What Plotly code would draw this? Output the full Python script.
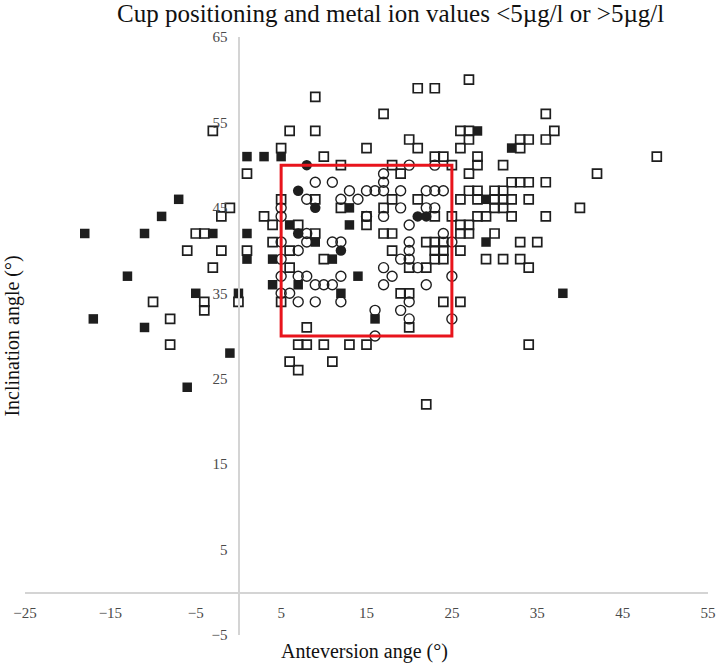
import plotly.graph_objects as go

# Open squares: outside target zone, <5 µg/l
open_sq_x = [-5, -4, -1, -2, -6, -2, -3, -4, -4, 0, -10, -8, -8, 1, 1, -3,
             9, 21, 23, 27, 17, 6, 9, 20, 21, 15, 5, 10, 12, 18, 23, 24, 25,
             36, 37, 36, 33, 34, 33, 26, 27, 27, 26, 28, 28, 27, 31, 49, 42, 32, 33, 34, 36,
             27, 28, 30, 31, 26, 28, 30, 31, 32, 34, 30, 31, 40, 25, 28, 29, 32, 36,
             26, 27, 26, 27, 30, 33, 35, 26, 29, 31, 33, 34, 26, 34,
             8, 20, 7, 8, 10, 13, 15, 6, 7, 11, 22,
             9, 18, 19, 21, 17, 23, 15, 15, 17, 18, 22, 23, 24, 23, 24, 23, 24, 18, 20, 22, 19, 20, 24,
             4, 4, 7, 9, 5, 6, 6, 10, 12, 5, 3]
open_sq_y = [42, 42, 45, 44, 40, 40, 38, 34, 33, 34, 34, 32, 29, 49, 40, 54,
             58, 59, 59, 60, 56, 54, 54, 53, 52, 52, 52, 51, 50, 50, 51, 51, 50,
             56, 54, 53, 53, 53, 52, 54, 54, 53, 52, 51, 50, 49, 50, 51, 49, 48, 48, 48, 48,
             47, 47, 47, 47, 46, 46, 46, 46, 46, 46, 45, 45, 45, 44, 44, 44, 44, 44,
             43, 43, 42, 42, 42, 41, 41, 40, 39, 39, 39, 38, 34, 29,
             31, 31, 29, 29, 29, 29, 29, 27, 26, 27, 22,
             46, 46, 49, 46, 45, 44, 44, 43, 42, 42, 41, 41, 41, 40, 40, 39, 39, 40, 38, 38, 35, 35, 34,
             43, 41, 43, 42, 46, 40, 38, 39, 45, 34, 44]

# Filled squares: outside target zone, >5 µg/l
fill_sq_x = [-7, -9, -18, -11, -3, -13, -5, 0, -17, -11, -1, -6, 1, 3, 5, 1, 1,
             28, 32, 29, 29, 38, 6, 9, 11, 13, 13, 14, 4, 4, 7, 12, 16]
fill_sq_y = [46, 44, 42, 42, 42, 37, 35, 35, 32, 31, 28, 24, 51, 51, 51, 42, 39,
             54, 52, 46, 41, 35, 43, 41, 39, 45, 43, 37, 39, 36, 36, 35, 32]

# Open circles: inside target zone, <5 µg/l
open_ci_x = [9, 11, 8, 12, 14, 13, 5, 5, 8, 8, 11, 12, 7, 5, 5, 5, 5, 7, 8, 9, 10, 11, 6, 7, 9, 12, 12, 15,
             20, 23, 17, 17, 15, 16, 17, 19, 22, 23, 24, 19, 17, 22, 23, 20, 24, 25, 20, 20, 20, 19,
             21, 17, 18, 17, 22, 20, 19, 20, 25, 25, 16, 16]
open_ci_y = [48, 48, 46, 46, 46, 47, 45, 44, 42, 41, 41, 41, 40, 41, 39, 37, 35, 37, 37, 36, 36, 36, 35, 34, 34, 37, 34, 44,
             50, 50, 49, 48, 47, 47, 47, 47, 47, 47, 47, 45, 44, 45, 45, 43, 42, 41, 41, 40, 39, 39,
             38, 38, 37, 36, 36, 34, 33, 32, 37, 32, 33, 30]

# Filled circles: inside target zone, >5 µg/l
fill_ci_x = [8, 7, 9, 7, 12, 21, 22]
fill_ci_y = [50, 47, 45, 42, 40, 44, 44]

# Target zone
zone_x = [5, 25]
zone_y = [30, 50]

x_ticks = [-25, -15, -5, 5, 15, 25, 35, 45, 55]
y_ticks = [-5, 5, 15, 25, 35, 45, 55, 65]

INK = "#1e1e1e"
SERIF = "Liberation Serif, Times New Roman, serif"
TICK = "#4a4a4a"

fig = go.Figure()
fig.add_trace(go.Scatter(x=open_sq_x, y=open_sq_y, mode="markers", name="outside <5",
                         marker=dict(symbol="square-open", size=9, color=INK, line=dict(width=1.7, color=INK))))
fig.add_trace(go.Scatter(x=fill_sq_x, y=fill_sq_y, mode="markers", name="outside >5",
                         marker=dict(symbol="square", size=9.5, color=INK, line=dict(width=0))))
fig.add_trace(go.Scatter(x=open_ci_x, y=open_ci_y, mode="markers", name="inside <5",
                         marker=dict(symbol="circle-open", size=10, color=INK, line=dict(width=1.4, color=INK))))
fig.add_trace(go.Scatter(x=fill_ci_x, y=fill_ci_y, mode="markers", name="inside >5",
                         marker=dict(symbol="circle", size=10.5, color=INK, line=dict(width=0))))

fig.add_shape(type="rect", x0=zone_x[0], x1=zone_x[1], y0=zone_y[0], y1=zone_y[1],
              xref="x", yref="y", line=dict(color="#e8141c", width=3), fillcolor="rgba(0,0,0,0)")

fig.update_layout(
    width=726, height=666,
    margin=dict(l=25, r=10, t=37, b=31),
    paper_bgcolor="white", plot_bgcolor="white",
    showlegend=False,
    hovermode=False,
    font=dict(family=SERIF, color=TICK),
    xaxis=dict(range=[-25, 55], tickvals=x_ticks, showgrid=False, zeroline=False,
               showline=True, linecolor="#d4d4d4", linewidth=1.3,
               anchor="free", position=5 / 70, ticks="", ticklabelstandoff=6,
               tickfont=dict(size=15, color=TICK, family=SERIF)),
    yaxis=dict(range=[-5, 65], tickvals=y_ticks, showgrid=False, zeroline=False,
               showline=True, linecolor="#d4d4d4", linewidth=1.3,
               anchor="free", position=25 / 80, ticks="", ticklabelstandoff=8,
               tickfont=dict(size=15, color=TICK, family=SERIF)),
    annotations=[
        dict(text="Cup positioning and metal ion values &lt;5µg/l or &gt;5µg/l",
             xref="paper", yref="paper", x=0.535, y=1.0385, xanchor="center", yanchor="middle",
             showarrow=False, font=dict(size=25, color="#111111", family=SERIF)),
        dict(text="Anteversion ange (°)", xref="paper", yref="paper", x=0.4975, y=-0.0284,
             xanchor="center", yanchor="middle", showarrow=False,
             font=dict(size=20, color="#111111", family=SERIF)),
        dict(text="Inclination angle (°)", xref="paper", yref="paper", x=-0.0196, y=0.5,
             xanchor="center", yanchor="middle", textangle=-90, showarrow=False,
             font=dict(size=20, color="#111111", family=SERIF)),
    ],
)

fig.write_html("out.html", config={"displayModeBar": False, "staticPlot": True},
               post_script="document.body.style.margin='0px';")
